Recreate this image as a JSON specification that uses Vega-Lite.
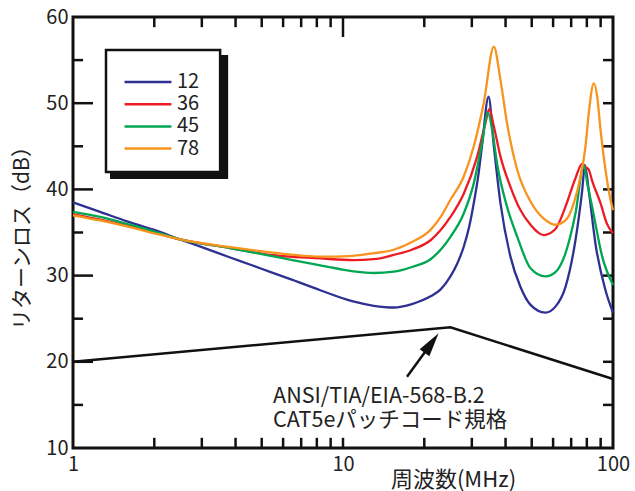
{
  "$schema": "https://vega.github.io/schema/vega-lite/v6.json",
  "width": 540,
  "height": 431,
  "autosize": "none",
  "padding": {"left": 73, "top": 17, "right": 22, "bottom": 43},
  "background": "white",
  "config": {
    "font": "Noto Sans CJK JP",
    "view": {"stroke": "#111", "strokeWidth": 3},
    "axis": {"grid": false, "domain": false, "labelColor": "#222", "labelFontSize": 20, "labelFont": "Noto Sans CJK JP", "titleFont": "Noto Sans CJK JP", "titleColor": "#222", "titleFontWeight": "normal", "titleFontSize": 21, "labelFlush": false}
  },
  "datasets": {
    "curves": [
      {"f": 1, "db": 38.5, "s": "12"}, {"f": 1.26, "db": 37.4, "s": "12"}, {"f": 1.585, "db": 36.3, "s": "12"}, {"f": 2, "db": 35.3, "s": "12"}, {"f": 2.49, "db": 34.2, "s": "12"}, {"f": 3.0, "db": 33.3, "s": "12"}, {"f": 3.82, "db": 32.1, "s": "12"}, {"f": 4.6, "db": 31.2, "s": "12"}, {"f": 5.4, "db": 30.4, "s": "12"}, {"f": 6.5, "db": 29.5, "s": "12"}, {"f": 8.24, "db": 28.3, "s": "12"}, {"f": 10.9, "db": 27.0, "s": "12"}, {"f": 13, "db": 26.5, "s": "12"}, {"f": 15.4, "db": 26.3, "s": "12"}, {"f": 18, "db": 26.7, "s": "12"}, {"f": 21.1, "db": 27.6, "s": "12"}, {"f": 23, "db": 28.4, "s": "12"}, {"f": 25, "db": 29.9, "s": "12"}, {"f": 26.5, "db": 31.4, "s": "12"}, {"f": 28, "db": 33.35, "s": "12"}, {"f": 29.3, "db": 35.6, "s": "12"}, {"f": 30.5, "db": 38.4, "s": "12"}, {"f": 31.7, "db": 41.6, "s": "12"}, {"f": 32.7, "db": 45.0, "s": "12"}, {"f": 34.6, "db": 50.75, "s": "12"}, {"f": 36.2, "db": 45.0, "s": "12"}, {"f": 38.3, "db": 38.4, "s": "12"}, {"f": 41.7, "db": 32.2, "s": "12"}, {"f": 45.4, "db": 28.7, "s": "12"}, {"f": 49.5, "db": 26.6, "s": "12"}, {"f": 56.2, "db": 25.7, "s": "12"}, {"f": 61.2, "db": 26.4, "s": "12"}, {"f": 66.7, "db": 28.7, "s": "12"}, {"f": 72.6, "db": 34.1, "s": "12"}, {"f": 76.9, "db": 39.9, "s": "12"}, {"f": 78.7, "db": 42.8, "s": "12"}, {"f": 81.3, "db": 39.9, "s": "12"}, {"f": 86.1, "db": 33.7, "s": "12"}, {"f": 93.8, "db": 28.3, "s": "12"}, {"f": 100, "db": 25.7, "s": "12"},
      {"f": 1, "db": 37.1, "s": "36"}, {"f": 1.26, "db": 36.5, "s": "36"}, {"f": 1.585, "db": 35.8, "s": "36"}, {"f": 2, "db": 35.0, "s": "36"}, {"f": 2.49, "db": 34.2, "s": "36"}, {"f": 3.82, "db": 33.2, "s": "36"}, {"f": 5.4, "db": 32.4, "s": "36"}, {"f": 8.24, "db": 32.0, "s": "36"}, {"f": 10.9, "db": 31.8, "s": "36"}, {"f": 13, "db": 31.9, "s": "36"}, {"f": 15.4, "db": 32.4, "s": "36"}, {"f": 18, "db": 33.0, "s": "36"}, {"f": 21.1, "db": 34.1, "s": "36"}, {"f": 25, "db": 36.8, "s": "36"}, {"f": 28, "db": 39.5, "s": "36"}, {"f": 31.4, "db": 43.8, "s": "36"}, {"f": 33.7, "db": 47.7, "s": "36"}, {"f": 34.8, "db": 49.3, "s": "36"}, {"f": 36.2, "db": 47.3, "s": "36"}, {"f": 38.3, "db": 43.8, "s": "36"}, {"f": 41.7, "db": 40.3, "s": "36"}, {"f": 45.4, "db": 37.6, "s": "36"}, {"f": 49.5, "db": 35.9, "s": "36"}, {"f": 55.4, "db": 34.7, "s": "36"}, {"f": 61.2, "db": 35.4, "s": "36"}, {"f": 66.7, "db": 38.0, "s": "36"}, {"f": 72.6, "db": 41.3, "s": "36"}, {"f": 76.9, "db": 43.0, "s": "36"}, {"f": 79.1, "db": 42.6, "s": "36"}, {"f": 81.3, "db": 42.3, "s": "36"}, {"f": 83.7, "db": 41.0, "s": "36"}, {"f": 89.9, "db": 38.4, "s": "36"}, {"f": 95, "db": 36.0, "s": "36"}, {"f": 100, "db": 34.9, "s": "36"},
      {"f": 1, "db": 37.4, "s": "45"}, {"f": 1.26, "db": 36.8, "s": "45"}, {"f": 1.585, "db": 36.0, "s": "45"}, {"f": 2, "db": 35.1, "s": "45"}, {"f": 2.49, "db": 34.2, "s": "45"}, {"f": 3.82, "db": 33.2, "s": "45"}, {"f": 5.4, "db": 32.3, "s": "45"}, {"f": 6.5, "db": 31.8, "s": "45"}, {"f": 8.24, "db": 31.2, "s": "45"}, {"f": 10.9, "db": 30.5, "s": "45"}, {"f": 13, "db": 30.3, "s": "45"}, {"f": 15.4, "db": 30.45, "s": "45"}, {"f": 18, "db": 31.0, "s": "45"}, {"f": 21.1, "db": 31.9, "s": "45"}, {"f": 25, "db": 34.5, "s": "45"}, {"f": 28, "db": 37.2, "s": "45"}, {"f": 30.5, "db": 40.7, "s": "45"}, {"f": 32.7, "db": 45.3, "s": "45"}, {"f": 34.4, "db": 48.9, "s": "45"}, {"f": 35.7, "db": 46.9, "s": "45"}, {"f": 37.2, "db": 43.0, "s": "45"}, {"f": 40.5, "db": 38.0, "s": "45"}, {"f": 44.2, "db": 34.5, "s": "45"}, {"f": 49.5, "db": 30.85, "s": "45"}, {"f": 56.2, "db": 29.9, "s": "45"}, {"f": 61.2, "db": 30.4, "s": "45"}, {"f": 66.7, "db": 32.6, "s": "45"}, {"f": 72.6, "db": 37.2, "s": "45"}, {"f": 78.0, "db": 42.8, "s": "45"}, {"f": 80.5, "db": 40.5, "s": "45"}, {"f": 83.7, "db": 38.0, "s": "45"}, {"f": 91.2, "db": 32.2, "s": "45"}, {"f": 100, "db": 28.9, "s": "45"},
      {"f": 1, "db": 37.0, "s": "78"}, {"f": 1.26, "db": 36.4, "s": "78"}, {"f": 1.585, "db": 35.7, "s": "78"}, {"f": 2, "db": 34.9, "s": "78"}, {"f": 2.49, "db": 34.2, "s": "78"}, {"f": 3.82, "db": 33.3, "s": "78"}, {"f": 5.4, "db": 32.7, "s": "78"}, {"f": 8.24, "db": 32.2, "s": "78"}, {"f": 10.9, "db": 32.3, "s": "78"}, {"f": 13, "db": 32.6, "s": "78"}, {"f": 15.4, "db": 33.0, "s": "78"}, {"f": 18, "db": 33.9, "s": "78"}, {"f": 21.1, "db": 35.3, "s": "78"}, {"f": 23, "db": 36.8, "s": "78"}, {"f": 25, "db": 38.8, "s": "78"}, {"f": 28, "db": 41.5, "s": "78"}, {"f": 30.5, "db": 45.0, "s": "78"}, {"f": 33.2, "db": 50.0, "s": "78"}, {"f": 36.2, "db": 56.55, "s": "78"}, {"f": 38.3, "db": 52.7, "s": "78"}, {"f": 40.5, "db": 47.7, "s": "78"}, {"f": 44.2, "db": 42.25, "s": "78"}, {"f": 49.5, "db": 38.6, "s": "78"}, {"f": 55.4, "db": 36.6, "s": "78"}, {"f": 61.2, "db": 35.9, "s": "78"}, {"f": 66.7, "db": 36.4, "s": "78"}, {"f": 71.6, "db": 38.4, "s": "78"}, {"f": 75.8, "db": 41.5, "s": "78"}, {"f": 79.1, "db": 45.0, "s": "78"}, {"f": 81.3, "db": 48.8, "s": "78"}, {"f": 84.9, "db": 52.3, "s": "78"}, {"f": 87.4, "db": 50.75, "s": "78"}, {"f": 89.9, "db": 46.9, "s": "78"}, {"f": 93.8, "db": 42.25, "s": "78"}, {"f": 97.9, "db": 38.8, "s": "78"}, {"f": 100, "db": 37.6, "s": "78"}
    ],
    "spec": [
      {"f": 1, "db": 20},
      {"f": 25, "db": 24},
      {"f": 100, "db": 18}
    ]
  },
  "resolve": {"scale": {"x": "independent", "y": "independent"}, "axis": {"x": "independent", "y": "independent"}},
  "layer": [
    {
      "data": {"values": [{}]},
      "mark": {"type": "rect", "color": "#111"},
      "encoding": {
        "x": {"datum": 1.371, "type": "quantitative", "scale": {"type": "log", "domain": [1, 100]},
          "axis": {"orient": "bottom", "values": [1, 10, 100], "format": "d", "ticks": false, "labelPadding": 6, "title": "周波数(MHz)", "titleFontSize": 22, "titleX": 380, "titleY": 31, "titleBaseline": "middle", "titleAlign": "center", "titleAnchor": null}},
        "x2": {"datum": 3.755},
        "y": {"datum": 55.59, "type": "quantitative", "scale": {"domain": [10, 60], "nice": false, "zero": false},
          "axis": {"orient": "left", "values": [10, 20, 30, 40, 50, 60], "ticks": false, "labelPadding": 5, "title": "リターンロス（dB）", "titleX": -51, "titleY": 215.5, "titleAngle": -90, "titleBaseline": "middle", "titleAlign": "center", "titleAnchor": null}},
        "y2": {"datum": 41.21}
      }
    },
    {
      "data": {"values": [{}]},
      "mark": {"type": "rect", "fill": "white", "stroke": "#111", "strokeWidth": 2.5},
      "encoding": {
        "x": {"datum": 1.325, "type": "quantitative", "scale": {"type": "log", "domain": [1, 100]}, "axis": null},
        "x2": {"datum": 3.507},
        "y": {"datum": 56.17, "type": "quantitative", "scale": {"domain": [10, 60], "nice": false, "zero": false}, "axis": null},
        "y2": {"datum": 42.02}
      }
    },
    {
      "data": {"values": [{"v": 2}, {"v": 3}, {"v": 4}, {"v": 5}, {"v": 6}, {"v": 7}, {"v": 8}, {"v": 9}, {"v": 10}, {"v": 20}, {"v": 30}, {"v": 40}, {"v": 50}, {"v": 60}, {"v": 70}, {"v": 80}, {"v": 90}]},
      "mark": {"type": "tick", "orient": "vertical", "color": "#111", "size": 10, "thickness": 2.5, "opacity": 1},
      "encoding": {
        "x": {"field": "v", "type": "quantitative", "scale": {"type": "log", "domain": [1, 100]}, "axis": null},
        "y": {"datum": 10.6, "type": "quantitative", "scale": {"domain": [10, 60], "nice": false, "zero": false}, "axis": null}
      }
    },
    {
      "data": {"values": [{"v": 2}, {"v": 3}, {"v": 4}, {"v": 5}, {"v": 6}, {"v": 7}, {"v": 8}, {"v": 9}, {"v": 20}, {"v": 30}, {"v": 40}, {"v": 50}, {"v": 60}, {"v": 70}, {"v": 80}, {"v": 90}]},
      "mark": {"type": "tick", "orient": "vertical", "color": "#111", "size": 10, "thickness": 2.5, "opacity": 1},
      "encoding": {
        "x": {"field": "v", "type": "quantitative", "scale": {"type": "log", "domain": [1, 100]}, "axis": null},
        "y": {"datum": 59.4, "type": "quantitative", "scale": {"domain": [10, 60], "nice": false, "zero": false}, "axis": null}
      }
    },
    {
      "data": {"values": [{"v": 10}]},
      "mark": {"type": "tick", "orient": "vertical", "color": "#111", "size": 20, "thickness": 2.5, "opacity": 1},
      "encoding": {
        "x": {"field": "v", "type": "quantitative", "scale": {"type": "log", "domain": [1, 100]}, "axis": null},
        "y": {"datum": 58.84, "type": "quantitative", "scale": {"domain": [10, 60], "nice": false, "zero": false}, "axis": null}
      }
    },
    {
      "data": {"values": [{"v": 15}, {"v": 25}, {"v": 35}, {"v": 45}, {"v": 55}]},
      "mark": {"type": "tick", "orient": "horizontal", "color": "#111", "size": 10, "thickness": 2.5, "opacity": 1},
      "encoding": {
        "y": {"field": "v", "type": "quantitative", "scale": {"domain": [10, 60], "nice": false, "zero": false}, "axis": null},
        "x": {"datum": 1.044, "type": "quantitative", "scale": {"type": "log", "domain": [1, 100]}, "axis": null}
      }
    },
    {
      "data": {"values": [{"v": 20}, {"v": 30}, {"v": 40}, {"v": 50}]},
      "mark": {"type": "tick", "orient": "horizontal", "color": "#111", "size": 20, "thickness": 2.5, "opacity": 1},
      "encoding": {
        "y": {"field": "v", "type": "quantitative", "scale": {"domain": [10, 60], "nice": false, "zero": false}, "axis": null},
        "x": {"datum": 1.089, "type": "quantitative", "scale": {"type": "log", "domain": [1, 100]}, "axis": null}
      }
    },
    {
      "data": {"values": [{"v": 15}, {"v": 20}, {"v": 25}, {"v": 30}, {"v": 35}, {"v": 40}, {"v": 45}, {"v": 50}, {"v": 55}]},
      "mark": {"type": "tick", "orient": "horizontal", "color": "#111", "size": 10, "thickness": 2.5, "opacity": 1},
      "encoding": {
        "y": {"field": "v", "type": "quantitative", "scale": {"domain": [10, 60], "nice": false, "zero": false}, "axis": null},
        "x": {"datum": 95.8, "type": "quantitative", "scale": {"type": "log", "domain": [1, 100]}, "axis": null}
      }
    },
    {
      "data": {"name": "spec"},
      "mark": {"type": "line", "color": "#111", "strokeWidth": 2.5},
      "encoding": {
        "x": {"field": "f", "type": "quantitative", "scale": {"type": "log", "domain": [1, 100]}, "axis": null},
        "y": {"field": "db", "type": "quantitative", "scale": {"domain": [10, 60], "nice": false, "zero": false}, "axis": null}
      }
    },
    {
      "data": {"name": "curves"},
      "mark": {"type": "line", "strokeWidth": 2.3, "interpolate": "monotone"},
      "encoding": {
        "x": {"field": "f", "type": "quantitative", "scale": {"type": "log", "domain": [1, 100]}, "axis": null},
        "y": {"field": "db", "type": "quantitative", "scale": {"domain": [10, 60], "nice": false, "zero": false}, "axis": null},
        "color": {"field": "s", "type": "nominal",
          "scale": {"domain": ["12", "36", "45", "78"], "range": ["#2E3192", "#ED1C24", "#00A651", "#F7941D"]},
          "legend": {"orient": "none", "legendX": 64, "legendY": 54, "title": null, "padding": 0, "symbolType": "M-2.47,0L2.47,0", "symbolSize": 361, "symbolStrokeWidth": 2.5, "symbolFillColor": "transparent", "labelFontSize": 20, "labelColor": "#222", "labelOffset": 18, "rowPadding": 1.2, "labelFont": "Noto Sans CJK JP"}}
      }
    },
    {
      "data": {"values": [{}]},
      "mark": {"type": "rule", "color": "#111", "strokeWidth": 2.5},
      "encoding": {
        "x": {"datum": 17.26, "type": "quantitative", "scale": {"type": "log", "domain": [1, 100]}, "axis": null},
        "y": {"datum": 18.27, "type": "quantitative", "scale": {"domain": [10, 60], "nice": false, "zero": false}, "axis": null},
        "x2": {"datum": 21.28},
        "y2": {"datum": 22.18}
      }
    },
    {
      "data": {"values": [{}]},
      "mark": {"type": "point", "shape": "M0,0L0.5,2L-0.5,2Z", "filled": true, "color": "#111", "opacity": 1, "size": 576, "angle": 36},
      "encoding": {
        "x": {"datum": 22.6, "type": "quantitative", "scale": {"type": "log", "domain": [1, 100]}, "axis": null},
        "y": {"datum": 23.31, "type": "quantitative", "scale": {"domain": [10, 60], "nice": false, "zero": false}, "axis": null}
      }
    },
    {
      "data": {"values": [{}]},
      "mark": {"type": "text", "text": ["ANSI/TIA/EIA-568-B.2", "CAT5eパッチコード規格"], "align": "left", "baseline": "alphabetic", "fontSize": 21.5, "lineHeight": 23.5, "color": "#222", "font": "Noto Sans CJK JP"},
      "encoding": {
        "x": {"datum": 5.51, "type": "quantitative", "scale": {"type": "log", "domain": [1, 100]}, "axis": null},
        "y": {"datum": 15.22, "type": "quantitative", "scale": {"domain": [10, 60], "nice": false, "zero": false}, "axis": null}
      }
    }
  ]
}
